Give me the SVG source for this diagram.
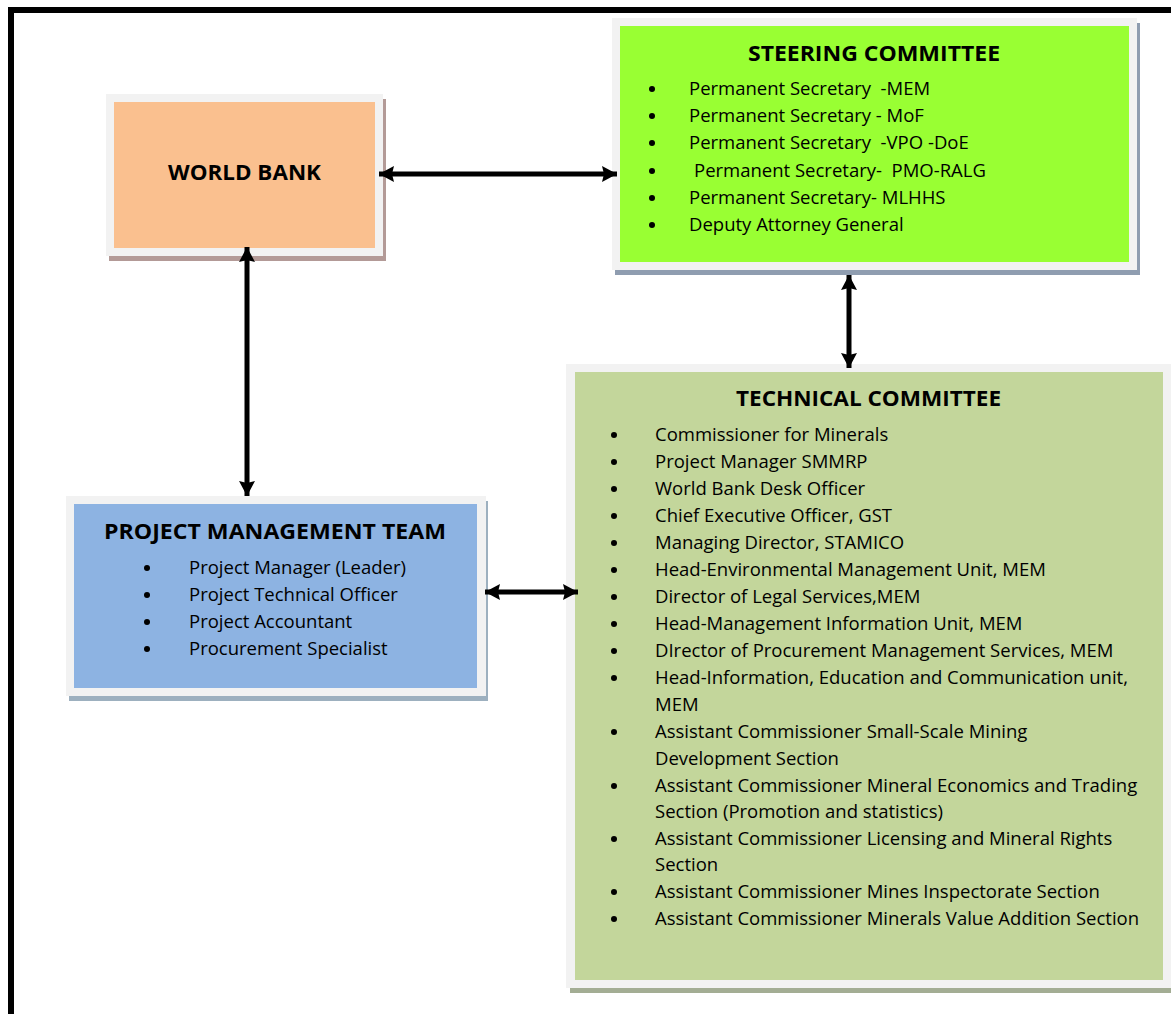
<svg xmlns="http://www.w3.org/2000/svg" width="1171" height="1014" viewBox="0 0 1171 1014">
<style>
.t{font-family:"Open Sans","Noto Sans",sans-serif;font-size:18.5px;fill:#000}
.h{font-family:"Open Sans","Noto Sans",sans-serif;font-size:21px;font-weight:bold;fill:#000}
.frame{fill:#f2f2f2}
.c{stroke:#000;stroke-width:5;fill:none;marker-start:url(#ah);marker-end:url(#ah)}
</style>
<defs>
<marker id="ah" markerUnits="userSpaceOnUse" markerWidth="16" markerHeight="16" refX="15" refY="8" orient="auto-start-reverse">
<path d="M0,0 L15,8 L0,16 L2,8 Z" fill="#000"/>
</marker>
</defs>
<rect width="1171" height="1014" fill="#fff"/>
<path d="M11,1014 V10 H1171" fill="none" stroke="#000" stroke-width="6"/>

<g id="world-bank">
<rect x="109" y="99" width="277" height="162" fill="#b39a97"/>
<rect class="frame" x="106" y="94" width="277" height="162"/>
<rect x="114" y="102" width="261" height="146" fill="#fac08f"/>
<text class="h" x="168" y="180" textLength="153" lengthAdjust="spacingAndGlyphs">WORLD BANK</text>
</g>

<g id="steering-committee">
<rect x="615" y="23" width="525" height="252" fill="#8f9db0"/>
<rect class="frame" x="612" y="18" width="525" height="252"/>
<rect x="620" y="26" width="509" height="236" fill="#99ff33"/>
<text class="h" x="748" y="61" textLength="252" lengthAdjust="spacingAndGlyphs">STEERING COMMITTEE</text>
<g class="t">
<circle cx="652" cy="89" r="3"/><text x="689" y="95" xml:space="preserve">Permanent Secretary&#160; -MEM</text>
<circle cx="652" cy="116" r="3"/><text x="689" y="122">Permanent Secretary - MoF</text>
<circle cx="652" cy="143" r="3"/><text x="689" y="149" xml:space="preserve">Permanent Secretary&#160; -VPO -DoE</text>
<circle cx="652" cy="171" r="3"/><text x="694" y="177" xml:space="preserve">Permanent Secretary-&#160; PMO-RALG</text>
<circle cx="652" cy="198" r="3"/><text x="689" y="204">Permanent Secretary- MLHHS</text>
<circle cx="652" cy="225" r="3"/><text x="689" y="231">Deputy Attorney General</text>
</g>
</g>

<g id="technical-committee">
<rect x="570" y="369" width="601" height="624" fill="#a3ad94"/>
<rect class="frame" x="566" y="364" width="605" height="624"/>
<rect x="575" y="372" width="588" height="608" fill="#c3d69b"/>
<text class="h" x="736" y="406" textLength="265" lengthAdjust="spacingAndGlyphs">TECHNICAL COMMITTEE</text>
<g class="t">
<circle cx="614" cy="435" r="3"/><text x="655" y="441">Commissioner for Minerals</text>
<circle cx="614" cy="462" r="3"/><text x="655" y="468">Project Manager SMMRP</text>
<circle cx="614" cy="489" r="3"/><text x="655" y="495">World Bank Desk Officer</text>
<circle cx="614" cy="516" r="3"/><text x="655" y="522">Chief Executive Officer, GST</text>
<circle cx="614" cy="543" r="3"/><text x="655" y="549">Managing Director, STAMICO</text>
<circle cx="614" cy="570" r="3"/><text x="655" y="576">Head-Environmental Management Unit, MEM</text>
<circle cx="614" cy="597" r="3"/><text x="655" y="603">Director of Legal Services,MEM</text>
<circle cx="614" cy="624" r="3"/><text x="655" y="630">Head-Management Information Unit, MEM</text>
<circle cx="614" cy="651" r="3"/><text x="655" y="657">DIrector of Procurement Management Services, MEM</text>
<circle cx="614" cy="678" r="3"/><text x="655" y="684">Head-Information, Education and Communication unit,</text>
<text x="655" y="711">MEM</text>
<circle cx="614" cy="732" r="3"/><text x="655" y="738">Assistant Commissioner Small-Scale Mining</text>
<text x="655" y="765">Development Section</text>
<circle cx="614" cy="786" r="3"/><text x="655" y="792">Assistant Commissioner Mineral Economics and Trading</text>
<text x="655" y="818">Section (Promotion and statistics)</text>
<circle cx="614" cy="839" r="3"/><text x="655" y="845">Assistant Commissioner Licensing and Mineral Rights</text>
<text x="655" y="871">Section</text>
<circle cx="614" cy="892" r="3"/><text x="655" y="898">Assistant Commissioner Mines Inspectorate Section</text>
<circle cx="614" cy="919" r="3"/><text x="655" y="925">Assistant Commissioner Minerals Value Addition Section</text>
</g>
</g>

<g id="project-management-team">
<rect x="69" y="501" width="419" height="200" fill="#9db0bf"/>
<rect class="frame" x="66" y="496" width="420" height="200"/>
<rect x="74" y="504" width="403" height="184" fill="#8db3e2"/>
<text class="h" x="104" y="539" textLength="342" lengthAdjust="spacingAndGlyphs">PROJECT MANAGEMENT TEAM</text>
<g class="t">
<circle cx="147" cy="568" r="3"/><text x="189" y="574">Project Manager (Leader)</text>
<circle cx="147" cy="595" r="3"/><text x="189" y="601">Project Technical Officer</text>
<circle cx="147" cy="622" r="3"/><text x="189" y="628">Project Accountant</text>
<circle cx="147" cy="649" r="3"/><text x="189" y="655">Procurement Specialist</text>
</g>
</g>

<g id="connectors">
<line class="c" x1="379" y1="174" x2="617" y2="174"/>
<line class="c" x1="247" y1="247" x2="247" y2="496"/>
<line class="c" x1="849" y1="275" x2="849" y2="368"/>
<line class="c" x1="485" y1="592" x2="578" y2="592"/>
</g>
</svg>
